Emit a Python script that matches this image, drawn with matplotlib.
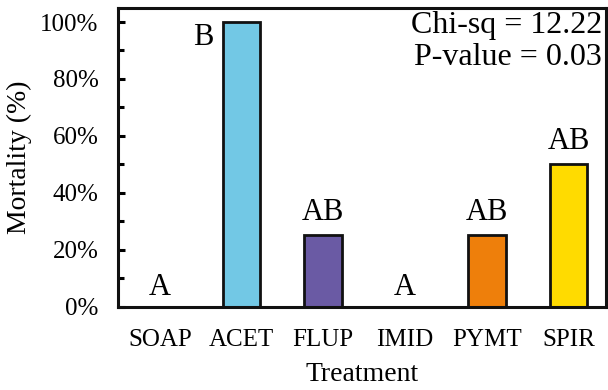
import matplotlib
matplotlib.use("Agg")
import matplotlib.pyplot as plt
from matplotlib.ticker import MultipleLocator, FuncFormatter

# Data
treatments = ["SOAP", "ACET", "FLUP", "IMID", "PYMT", "SPIR"]
mortality = [0, 100, 25, 0, 25, 50]          # percent
letters = ["A", "B", "AB", "A", "AB", "AB"]
bar_colors = ["#FFFFFF", "#72C8E5", "#6A5AA4", "#FFFFFF", "#EE7F0B", "#FFDB00"]
chi_sq = 12.22
p_value = 0.03

plt.rcParams["font.family"] = ["Liberation Serif", "DejaVu Serif"]

fig = plt.figure(figsize=(6.08, 3.90), dpi=100)
ax = fig.add_axes([0.1941, 0.2141, 0.9967 - 0.1941, 0.98 - 0.2141])

x = list(range(len(treatments)))
for xi, v, c in zip(x, mortality, bar_colors):
    if v > 0:
        ax.bar(xi, v, width=0.46, color=c, edgecolor="#111111", linewidth=2.0, zorder=2)

# Significance letters
for xi, v, lab in zip(x, mortality, letters):
    if v >= 100:
        ax.text(xi - 0.47, v - 8.0, lab, ha="center", va="baseline", fontsize=22)
    elif v > 0:
        ax.text(xi, v + 5.5, lab, ha="center", va="baseline", fontsize=22)
    else:
        ax.text(xi, v + 3.9, lab, ha="center", va="baseline", fontsize=22)

ax.text(0.992, 0.9156, f"Chi-sq = {chi_sq:.2f}", transform=ax.transAxes,
        ha="right", va="baseline", fontsize=23)
ax.text(0.992, 0.8085, f"P-value = {p_value:.2f}", transform=ax.transAxes,
        ha="right", va="baseline", fontsize=23)

ax.set_xlim(-0.511, 5.459)
ax.set_ylim(0, 105)
ax.set_xticks(x)
ax.set_xticklabels(treatments, fontsize=18)
ax.tick_params(axis="x", length=0, pad=16)

ax.yaxis.set_major_locator(MultipleLocator(20))
ax.yaxis.set_minor_locator(MultipleLocator(10))
ax.yaxis.set_major_formatter(FuncFormatter(lambda v, p: f"{v:.0f}%"))
ax.tick_params(axis="y", which="major", direction="in", length=5, width=2.2,
               labelsize=18, pad=14)
ax.tick_params(axis="y", which="minor", direction="in", length=4.5, width=2.2)

for s in ax.spines.values():
    s.set_linewidth(2.2)
    s.set_color("#111111")

ax.set_xlabel("Treatment", fontsize=20, labelpad=8)
ax.set_ylabel("Mortality (%)", fontsize=20, labelpad=6)

fig.savefig("out.png", dpi=100)
